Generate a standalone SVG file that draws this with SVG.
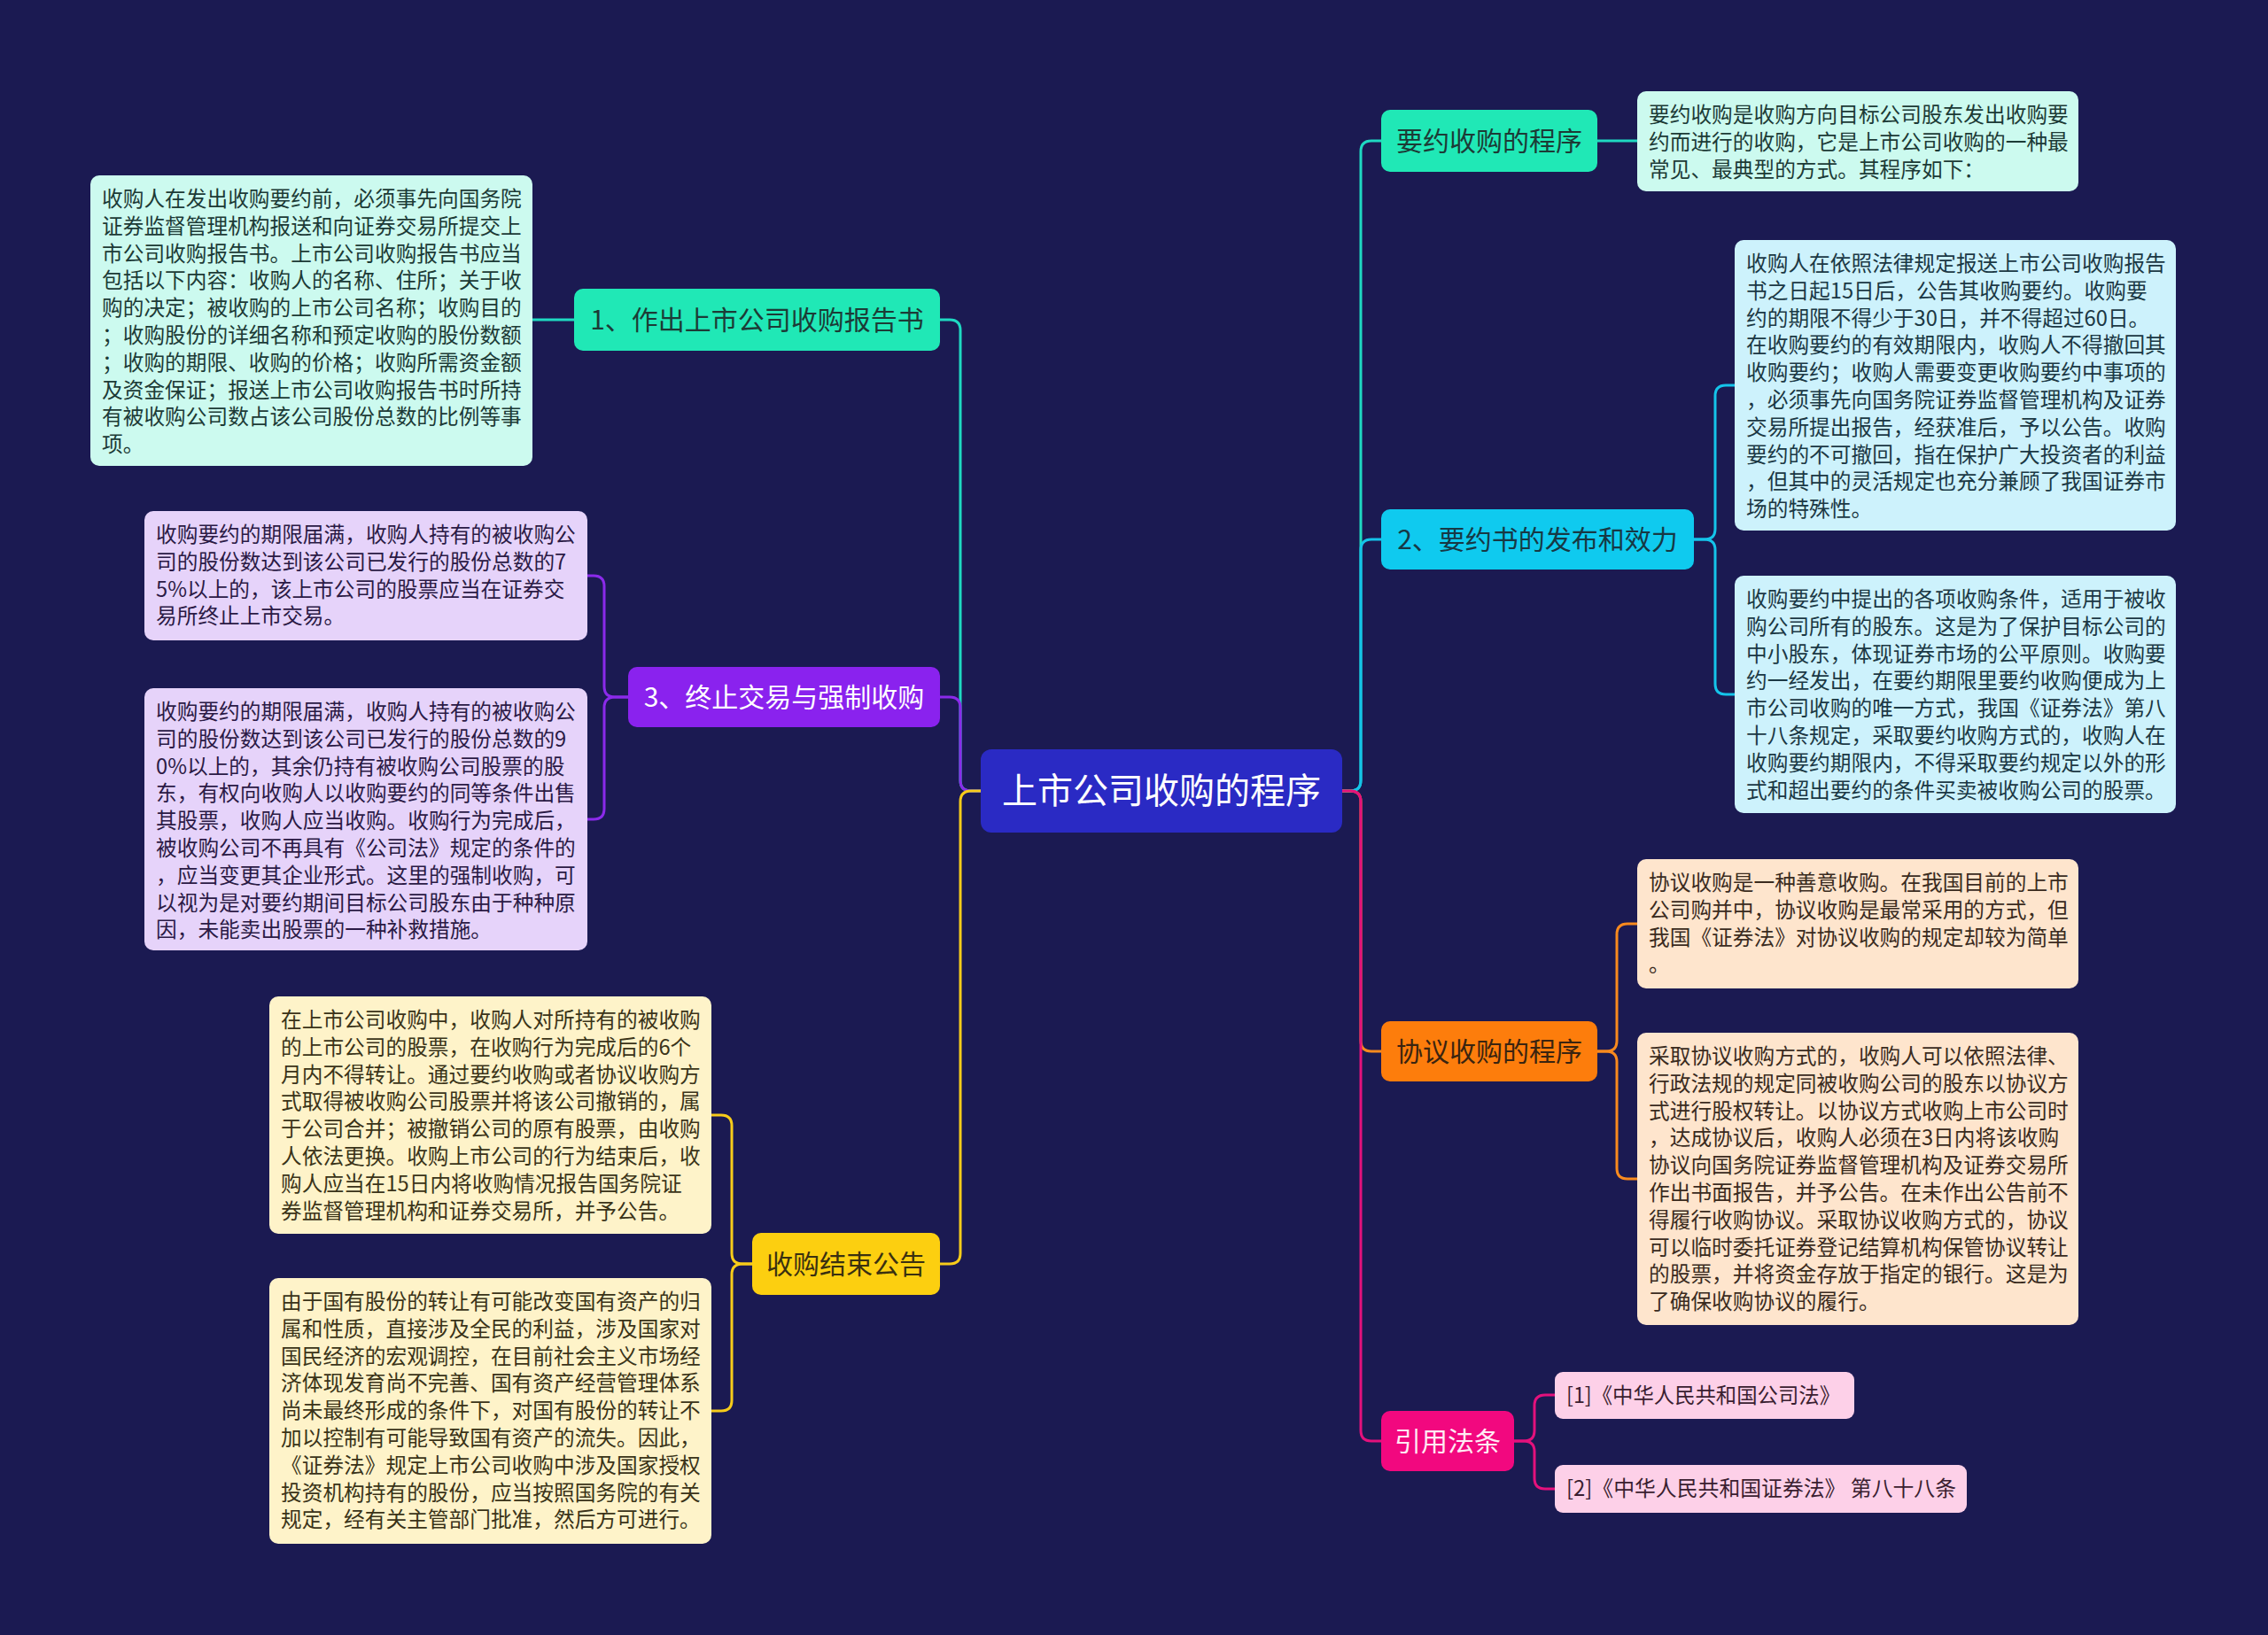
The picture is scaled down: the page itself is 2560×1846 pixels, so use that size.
<svg xmlns="http://www.w3.org/2000/svg" width="2560" height="1846" viewBox="0 0 2560 1846">
<style>
text{font-family:"Noto Sans CJK SC","Liberation Sans",sans-serif;}
.ln{fill:none;stroke-width:3;stroke-linecap:round;stroke-linejoin:round;}
.body{font-size:23.7px;}
.br{font-size:30px;text-anchor:middle;}
.ref{font-size:24px;fill:#3a1e30;}
.teal{stroke:#1fd9c2;}
.cyan{stroke:#14c4ea;}
.purple{stroke:#8b2aea;}
.yellow{stroke:#f7cc1a;}
.orange{stroke:#f88a1e;}
.pink{stroke:#e4117c;}
</style>
<rect x="0" y="0" width="2560" height="1846" fill="#1b1a52"/>

<g id="connectors">
<path class="ln teal" d="M1107 893 H1096 Q1084 893 1084 881 V373 Q1084 361 1072 361 H1061"/>
<path class="ln purple" d="M1107 893 H1096 Q1084 893 1084 881 V799 Q1084 787 1072 787 H1061"/>
<path class="ln yellow" d="M1107 893 H1096 Q1084 893 1084 905 V1415 Q1084 1427 1072 1427 H1061"/>
<path class="ln teal" d="M1515 893 H1524 Q1536 893 1536 881 V171 Q1536 159 1548 159 H1559"/>
<path class="ln cyan" d="M1515 893 H1524 Q1536 893 1536 881 V621 Q1536 609 1548 609 H1559"/>
<path class="ln orange" d="M1515 893 H1524 Q1536 893 1536 905 V1175 Q1536 1187 1548 1187 H1559"/>
<path class="ln pink" d="M1515 893 H1524 Q1536 893 1536 905 V1615 Q1536 1627 1548 1627 H1559"/>
<path class="ln teal" d="M648 361 H601"/>
<path class="ln purple" d="M709 787 H694 Q682 787 682 775 V662 Q682 650 670 650 H663"/>
<path class="ln purple" d="M709 787 H694 Q682 787 682 799 V913 Q682 925 670 925 H663"/>
<path class="ln yellow" d="M849 1427 H838 Q826 1427 826 1415 V1271 Q826 1259 814 1259 H803"/>
<path class="ln yellow" d="M849 1427 H838 Q826 1427 826 1439 V1581 Q826 1593 814 1593 H803"/>
<path class="ln teal" d="M1803 159 H1848"/>
<path class="ln cyan" d="M1912 609 H1924 Q1936 609 1936 597 V447 Q1936 435 1948 435 H1958"/>
<path class="ln cyan" d="M1912 609 H1924 Q1936 609 1936 621 V772 Q1936 784 1948 784 H1958"/>
<path class="ln orange" d="M1803 1187 H1813 Q1825 1187 1825 1175 V1055 Q1825 1043 1837 1043 H1848"/>
<path class="ln orange" d="M1803 1187 H1813 Q1825 1187 1825 1199 V1319 Q1825 1331 1837 1331 H1848"/>
<path class="ln pink" d="M1709 1627 H1720 Q1732 1627 1732 1615 V1587 Q1732 1575 1744 1575 H1755"/>
<path class="ln pink" d="M1709 1627 H1720 Q1732 1627 1732 1639 V1669 Q1732 1681 1744 1681 H1755"/>
</g>

<g id="root">
<rect x="1107" y="846" width="408" height="94" rx="12" fill="#2a2ac4"/>
<text x="1311" y="907" font-size="40" text-anchor="middle" fill="#ffffff">上市公司收购的程序</text>
</g>

<g id="b1">
<rect x="648" y="326" width="413" height="70" rx="10" fill="#20e8b6"/>
<text class="br" x="854.5" y="372" fill="#1c3b36">1、作出上市公司收购报告书</text>
</g>
<g id="b1c1">
<rect x="102" y="198" width="499" height="328" rx="10" fill="#ccfaef"/>
<text class="body" fill="#1c3a36" x="115" y="233"><tspan x="115">收购人在发出收购要约前，必须事先向国务院</tspan><tspan x="115" dy="30.8">证券监督管理机构报送和向证券交易所提交上</tspan><tspan x="115" dy="30.8">市公司收购报告书。上市公司收购报告书应当</tspan><tspan x="115" dy="30.8">包括以下内容：收购人的名称、住所；关于收</tspan><tspan x="115" dy="30.8">购的决定；被收购的上市公司名称；收购目的</tspan><tspan x="115" dy="30.8">；收购股份的详细名称和预定收购的股份数额</tspan><tspan x="115" dy="30.8">；收购的期限、收购的价格；收购所需资金额</tspan><tspan x="115" dy="30.8">及资金保证；报送上市公司收购报告书时所持</tspan><tspan x="115" dy="30.8">有被收购公司数占该公司股份总数的比例等事</tspan><tspan x="115" dy="30.8">项。</tspan></text>
</g>

<g id="b3">
<rect x="709" y="753" width="352" height="68" rx="10" fill="#8a22ee"/>
<text class="br" x="885" y="798" fill="#ffffff">3、终止交易与强制收购</text>
</g>
<g id="b3c1">
<rect x="163" y="577" width="500" height="146" rx="10" fill="#e6d3fa"/>
<text class="body" fill="#2b1a45" x="176" y="612"><tspan x="176">收购要约的期限届满，收购人持有的被收购公</tspan><tspan x="176" dy="30.8">司的股份数达到该公司已发行的股份总数的7</tspan><tspan x="176" dy="30.8">5%以上的，该上市公司的股票应当在证券交</tspan><tspan x="176" dy="30.8">易所终止上市交易。</tspan></text>
</g>
<g id="b3c2">
<rect x="163" y="777" width="500" height="296" rx="10" fill="#e6d3fa"/>
<text class="body" fill="#2b1a45" x="176" y="812"><tspan x="176">收购要约的期限届满，收购人持有的被收购公</tspan><tspan x="176" dy="30.8">司的股份数达到该公司已发行的股份总数的9</tspan><tspan x="176" dy="30.8">0%以上的，其余仍持有被收购公司股票的股</tspan><tspan x="176" dy="30.8">东，有权向收购人以收购要约的同等条件出售</tspan><tspan x="176" dy="30.8">其股票，收购人应当收购。收购行为完成后，</tspan><tspan x="176" dy="30.8">被收购公司不再具有《公司法》规定的条件的</tspan><tspan x="176" dy="30.8">，应当变更其企业形式。这里的强制收购，可</tspan><tspan x="176" dy="30.8">以视为是对要约期间目标公司股东由于种种原</tspan><tspan x="176" dy="30.8">因，未能卖出股票的一种补救措施。</tspan></text>
</g>

<g id="b5">
<rect x="849" y="1392" width="212" height="70" rx="10" fill="#fccf10"/>
<text class="br" x="955" y="1438" fill="#3a3010">收购结束公告</text>
</g>
<g id="b5c1">
<rect x="304" y="1125" width="499" height="268" rx="10" fill="#fef3c9"/>
<text class="body" fill="#3a3318" x="317" y="1160"><tspan x="317">在上市公司收购中，收购人对所持有的被收购</tspan><tspan x="317" dy="30.8">的上市公司的股票，在收购行为完成后的6个</tspan><tspan x="317" dy="30.8">月内不得转让。通过要约收购或者协议收购方</tspan><tspan x="317" dy="30.8">式取得被收购公司股票并将该公司撤销的，属</tspan><tspan x="317" dy="30.8">于公司合并；被撤销公司的原有股票，由收购</tspan><tspan x="317" dy="30.8">人依法更换。收购上市公司的行为结束后，收</tspan><tspan x="317" dy="30.8">购人应当在15日内将收购情况报告国务院证</tspan><tspan x="317" dy="30.8">券监督管理机构和证券交易所，并予公告。</tspan></text>
</g>
<g id="b5c2">
<rect x="304" y="1443" width="499" height="300" rx="10" fill="#fef3c9"/>
<text class="body" fill="#3a3318" x="317" y="1478"><tspan x="317">由于国有股份的转让有可能改变国有资产的归</tspan><tspan x="317" dy="30.8">属和性质，直接涉及全民的利益，涉及国家对</tspan><tspan x="317" dy="30.8">国民经济的宏观调控，在目前社会主义市场经</tspan><tspan x="317" dy="30.8">济体现发育尚不完善、国有资产经营管理体系</tspan><tspan x="317" dy="30.8">尚未最终形成的条件下，对国有股份的转让不</tspan><tspan x="317" dy="30.8">加以控制有可能导致国有资产的流失。因此，</tspan><tspan x="317" dy="30.8">《证券法》规定上市公司收购中涉及国家授权</tspan><tspan x="317" dy="30.8">投资机构持有的股份，应当按照国务院的有关</tspan><tspan x="317" dy="30.8">规定，经有关主管部门批准，然后方可进行。</tspan></text>
</g>

<g id="r1">
<rect x="1559" y="124" width="244" height="70" rx="10" fill="#20e8b6"/>
<text class="br" x="1681" y="170" fill="#1c3b36">要约收购的程序</text>
</g>
<g id="r1c1">
<rect x="1848" y="103" width="498" height="113" rx="10" fill="#ccfaef"/>
<text class="body" fill="#1c3a36" x="1861" y="138"><tspan x="1861">要约收购是收购方向目标公司股东发出收购要</tspan><tspan x="1861" dy="30.8">约而进行的收购，它是上市公司收购的一种最</tspan><tspan x="1861" dy="30.8">常见、最典型的方式。其程序如下：</tspan></text>
</g>

<g id="r2">
<rect x="1559" y="575" width="353" height="68" rx="10" fill="#0fcaef"/>
<text class="br" x="1735.5" y="620" fill="#173844">2、要约书的发布和效力</text>
</g>
<g id="r2c1">
<rect x="1958" y="271" width="498" height="328" rx="10" fill="#cdf2fc"/>
<text class="body" fill="#1b3844" x="1971" y="306"><tspan x="1971">收购人在依照法律规定报送上市公司收购报告</tspan><tspan x="1971" dy="30.8">书之日起15日后，公告其收购要约。收购要</tspan><tspan x="1971" dy="30.8">约的期限不得少于30日，并不得超过60日。</tspan><tspan x="1971" dy="30.8">在收购要约的有效期限内，收购人不得撤回其</tspan><tspan x="1971" dy="30.8">收购要约；收购人需要变更收购要约中事项的</tspan><tspan x="1971" dy="30.8">，必须事先向国务院证券监督管理机构及证券</tspan><tspan x="1971" dy="30.8">交易所提出报告，经获准后，予以公告。收购</tspan><tspan x="1971" dy="30.8">要约的不可撤回，指在保护广大投资者的利益</tspan><tspan x="1971" dy="30.8">，但其中的灵活规定也充分兼顾了我国证券市</tspan><tspan x="1971" dy="30.8">场的特殊性。</tspan></text>
</g>
<g id="r2c2">
<rect x="1958" y="650" width="498" height="268" rx="10" fill="#cdf2fc"/>
<text class="body" fill="#1b3844" x="1971" y="685"><tspan x="1971">收购要约中提出的各项收购条件，适用于被收</tspan><tspan x="1971" dy="30.8">购公司所有的股东。这是为了保护目标公司的</tspan><tspan x="1971" dy="30.8">中小股东，体现证券市场的公平原则。收购要</tspan><tspan x="1971" dy="30.8">约一经发出，在要约期限里要约收购便成为上</tspan><tspan x="1971" dy="30.8">市公司收购的唯一方式，我国《证券法》第八</tspan><tspan x="1971" dy="30.8">十八条规定，采取要约收购方式的，收购人在</tspan><tspan x="1971" dy="30.8">收购要约期限内，不得采取要约规定以外的形</tspan><tspan x="1971" dy="30.8">式和超出要约的条件买卖被收购公司的股票。</tspan></text>
</g>

<g id="r3">
<rect x="1559" y="1153" width="244" height="68" rx="10" fill="#fd7d0c"/>
<text class="br" x="1681" y="1198" fill="#3a2410">协议收购的程序</text>
</g>
<g id="r3c1">
<rect x="1848" y="970" width="498" height="146" rx="10" fill="#fee5cd"/>
<text class="body" fill="#3a2b1e" x="1861" y="1005"><tspan x="1861">协议收购是一种善意收购。在我国目前的上市</tspan><tspan x="1861" dy="30.8">公司购并中，协议收购是最常采用的方式，但</tspan><tspan x="1861" dy="30.8">我国《证券法》对协议收购的规定却较为简单</tspan><tspan x="1861" dy="30.8">。</tspan></text>
</g>
<g id="r3c2">
<rect x="1848" y="1166" width="498" height="330" rx="10" fill="#fee5cd"/>
<text class="body" fill="#3a2b1e" x="1861" y="1201"><tspan x="1861">采取协议收购方式的，收购人可以依照法律、</tspan><tspan x="1861" dy="30.8">行政法规的规定同被收购公司的股东以协议方</tspan><tspan x="1861" dy="30.8">式进行股权转让。以协议方式收购上市公司时</tspan><tspan x="1861" dy="30.8">，达成协议后，收购人必须在3日内将该收购</tspan><tspan x="1861" dy="30.8">协议向国务院证券监督管理机构及证券交易所</tspan><tspan x="1861" dy="30.8">作出书面报告，并予公告。在未作出公告前不</tspan><tspan x="1861" dy="30.8">得履行收购协议。采取协议收购方式的，协议</tspan><tspan x="1861" dy="30.8">可以临时委托证券登记结算机构保管协议转让</tspan><tspan x="1861" dy="30.8">的股票，并将资金存放于指定的银行。这是为</tspan><tspan x="1861" dy="30.8">了确保收购协议的履行。</tspan></text>
</g>

<g id="r4">
<rect x="1559" y="1593" width="150" height="68" rx="10" fill="#f2087f"/>
<text class="br" x="1634" y="1638" fill="#ffeaf4">引用法条</text>
</g>
<g id="r4c1">
<rect x="1755" y="1549" width="338" height="53" rx="9" fill="#fdd0e8"/>
<text class="ref" x="1768" y="1584" textLength="309" lengthAdjust="spacingAndGlyphs">[1]《中华人民共和国公司法》</text>
</g>
<g id="r4c2">
<rect x="1755" y="1654" width="465" height="54" rx="9" fill="#fdd0e8"/>
<text class="ref" x="1768" y="1689" textLength="440" lengthAdjust="spacingAndGlyphs">[2]《中华人民共和国证券法》 第八十八条</text>
</g>
</svg>
